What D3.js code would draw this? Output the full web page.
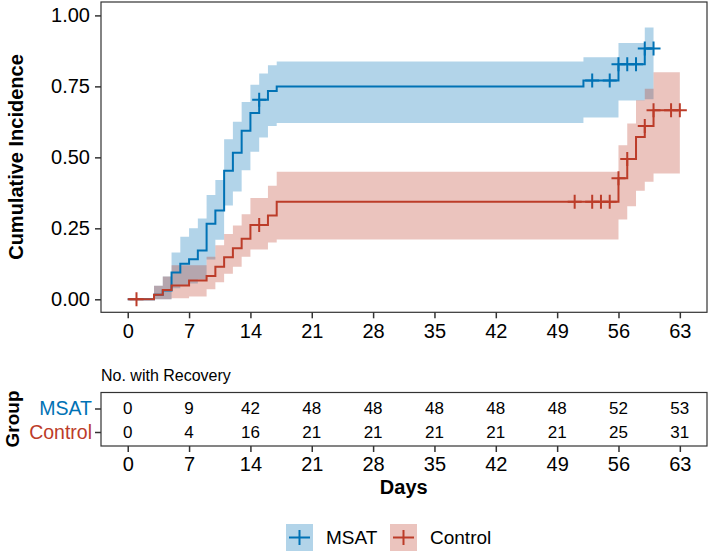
<!DOCTYPE html>
<html>
<head>
<meta charset="utf-8">
<script src="https://d3js.org/d3.v7.min.js"></script>
<style>
  body { margin: 0; background: #fff; }
  svg { display: block; font-family: "Liberation Sans", Arial, sans-serif; }
</style>
</head>
<body>
<div id="chart"></div>
<script>
// Cumulative incidence steps (day, estimate, lower CI, upper CI)
const msatTime = [0, 3, 4, 5, 6, 7, 8, 9, 10, 11, 12, 13, 14, 15, 16, 17, 52, 56, 59, 60];
const msatEst  = [0, 0.016, 0.031, 0.094, 0.125, 0.141, 0.172, 0.266, 0.313, 0.453, 0.516, 0.594, 0.656, 0.703, 0.734, 0.75, 0.771, 0.828, 0.883, 0.883];
const msatLow  = [0, 0, 0, 0.039, 0.05, 0.056, 0.07, 0.14, 0.21, 0.33, 0.38, 0.455, 0.52, 0.57, 0.61, 0.621, 0.64, 0.70, 0.705, 0.705];
const msatHigh = [0, 0.048, 0.08, 0.165, 0.22, 0.25, 0.285, 0.367, 0.42, 0.564, 0.625, 0.695, 0.756, 0.795, 0.824, 0.838, 0.853, 0.903, 0.957, 0.957];
const msatCensor = [15, 53, 55, 56, 57, 58, 59, 60];

const controlTime = [0, 3, 4, 5, 7, 9, 10, 11, 12, 13, 14, 16, 17, 56, 57, 58, 59, 60, 63];
const controlEst  = [0, 0.016, 0.033, 0.049, 0.066, 0.082, 0.115, 0.148, 0.18, 0.213, 0.262, 0.295, 0.344, 0.426, 0.494, 0.572, 0.61, 0.666, 0.666];
const controlLow  = [0, 0, 0, 0.004, 0.01, 0.035, 0.06, 0.09, 0.115, 0.15, 0.175, 0.2, 0.211, 0.281, 0.328, 0.382, 0.414, 0.443, 0.443];
const controlHigh = [0, 0.048, 0.08, 0.12, 0.12, 0.15, 0.19, 0.23, 0.26, 0.30, 0.357, 0.40, 0.449, 0.543, 0.619, 0.701, 0.742, 0.80, 0.80];
const controlCensor = [1, 15, 51, 53, 54, 55, 56, 57, 59, 60, 62, 63];

// Number with recovery table
const riskDays = [0, 7, 14, 21, 28, 35, 42, 49, 56, 63];
const msatRisk = [0, 9, 42, 48, 48, 48, 48, 48, 52, 53];
const controlRisk = [0, 4, 16, 21, 21, 21, 21, 21, 25, 31];

const yTicks = [0, 0.25, 0.5, 0.75, 1];
const groups = ["MSAT", "Control"];

// Layout
const width = 709;
const height = 553;
const blue = "#0072B5";
const red = "#BC3C29";
const axisColor = "#333333";

const svg = d3.select("#chart").append("svg")
    .attr("width", width)
    .attr("height", height);

const x = d3.scaleLinear().domain([-3.05, 66.1]).range([101, 707]);
const y = d3.scaleLinear().domain([0, 1]).range([299.3, 15.4]);
const panelTop = 2, panelBottom = 312.3;

const series = [
    { name: "MSAT", color: blue, time: msatTime, est: msatEst, low: msatLow, high: msatHigh, censor: msatCensor },
    { name: "Control", color: red, time: controlTime, est: controlEst, low: controlLow, high: controlHigh, censor: controlCensor }
];
series.forEach(s => {
    s.points = s.time.map((t, i) => ({ t: t, est: s.est[i], low: s.low[i], high: s.high[i] }));
});

// value of step function at time t
function stepAt(s, t) {
    let v = 0;
    s.points.forEach(p => { if (p.t <= t) v = p.est; });
    return v;
}

const plot = svg.append("g");

// Ribbons
const area = d3.area()
    .curve(d3.curveStepAfter)
    .x(d => x(d.t))
    .y0(d => y(d.low))
    .y1(d => y(d.high));

series.forEach(s => {
    plot.append("path")
        .datum(s.points)
        .attr("d", area)
        .attr("fill", s.color)
        .attr("fill-opacity", 0.3);
});

// Step lines
const line = d3.line()
    .curve(d3.curveStepAfter)
    .x(d => x(d.t))
    .y(d => y(d.est));

series.forEach(s => {
    plot.append("path")
        .datum(s.points)
        .attr("d", line)
        .attr("fill", "none")
        .attr("stroke", s.color)
        .attr("stroke-width", 2);
});

// Censor marks
series.forEach(s => {
    const g = plot.append("g");
    s.censor.forEach(t => {
        const cx = x(t), cy = y(stepAt(s, t));
        g.append("path")
            .attr("d", `M${cx - 7},${cy}H${cx + 7}M${cx},${cy - 7}V${cy + 7}`)
            .attr("stroke", s.color)
            .attr("stroke-width", 2);
    });
});

// Panel border
svg.append("rect")
    .attr("x", 101).attr("y", panelTop)
    .attr("width", 606).attr("height", panelBottom - panelTop)
    .attr("fill", "none")
    .attr("stroke", axisColor)
    .attr("stroke-width", 1.2);

// Y axis
const yAxis = svg.append("g")
    .attr("transform", "translate(101,0)")
    .call(d3.axisLeft(y).tickValues(yTicks).tickFormat(d3.format(".2f")).tickSize(6).tickPadding(5));
yAxis.select(".domain").remove();
yAxis.selectAll(".tick line").attr("stroke", axisColor).attr("stroke-width", 1.5);
yAxis.selectAll(".tick text").attr("fill", "#000").style("font-size", "20px");

// X axis
const xAxis = svg.append("g")
    .attr("transform", `translate(0,${panelBottom})`)
    .call(d3.axisBottom(x).tickValues(riskDays).tickSize(6).tickPadding(6));
xAxis.select(".domain").remove();
xAxis.selectAll(".tick line").attr("stroke", axisColor).attr("stroke-width", 1.5);
xAxis.selectAll(".tick text").attr("fill", "#000").style("font-size", "20px");

svg.append("text")
    .attr("transform", "translate(23,157) rotate(-90)")
    .attr("text-anchor", "middle")
    .style("font-size", "20px")
    .style("font-weight", "bold")
    .text("Cumulative Incidence");

// Risk table
svg.append("text")
    .attr("x", 101).attr("y", 381)
    .style("font-size", "16px")
    .text("No. with Recovery");

const tableTop = 392.5, tableBottom = 446;
const rowY = d3.scalePoint().domain(groups).range([408.5, 432]);

svg.append("rect")
    .attr("x", 101).attr("y", tableTop)
    .attr("width", 606).attr("height", tableBottom - tableTop)
    .attr("fill", "none")
    .attr("stroke", axisColor)
    .attr("stroke-width", 1.2);

const rowAxis = svg.append("g")
    .attr("transform", "translate(101,0)")
    .call(d3.axisLeft(rowY).tickSize(6).tickPadding(3));
rowAxis.select(".domain").remove();
rowAxis.selectAll(".tick line").attr("stroke", axisColor).attr("stroke-width", 1.5);
rowAxis.selectAll(".tick text")
    .attr("fill", d => d === "MSAT" ? blue : red)
    .style("font-size", "19.5px");

const riskRows = [
    { name: "MSAT", values: msatRisk },
    { name: "Control", values: controlRisk }
];
riskRows.forEach(r => {
    svg.append("g").selectAll("text")
        .data(r.values)
        .join("text")
        .attr("x", (d, i) => x(riskDays[i]))
        .attr("y", rowY(r.name))
        .attr("dy", "0.35em")
        .attr("text-anchor", "middle")
        .style("font-size", "17px")
        .text(d => d);
});

const tAxis = svg.append("g")
    .attr("transform", `translate(0,${tableBottom})`)
    .call(d3.axisBottom(x).tickValues(riskDays).tickSize(6).tickPadding(5));
tAxis.select(".domain").remove();
tAxis.selectAll(".tick line").attr("stroke", axisColor).attr("stroke-width", 1.5);
tAxis.selectAll(".tick text").attr("fill", "#000").style("font-size", "20px");

svg.append("text")
    .attr("x", x(31.5)).attr("y", 494)
    .attr("text-anchor", "middle")
    .style("font-size", "20px")
    .style("font-weight", "bold")
    .text("Days");

svg.append("text")
    .attr("transform", "translate(19,419) rotate(-90)")
    .attr("text-anchor", "middle")
    .style("font-size", "19px")
    .style("font-weight", "bold")
    .text("Group");

// Legend
const legend = svg.append("g").attr("transform", "translate(286,524)");
const legendX = [0, 104];
series.forEach((s, i) => {
    const g = legend.append("g").attr("transform", `translate(${legendX[i]},0)`);
    g.append("rect")
        .attr("width", 27).attr("height", 27)
        .attr("fill", s.color)
        .attr("fill-opacity", 0.3);
    g.append("path")
        .attr("d", "M3,13.5H24M13.5,6V21")
        .attr("stroke", s.color)
        .attr("stroke-width", 2);
    g.append("text")
        .attr("x", 40).attr("y", 13.5)
        .attr("dy", "0.35em")
        .style("font-size", "19px")
        .text(s.name);
});
</script>
</body>
</html>
